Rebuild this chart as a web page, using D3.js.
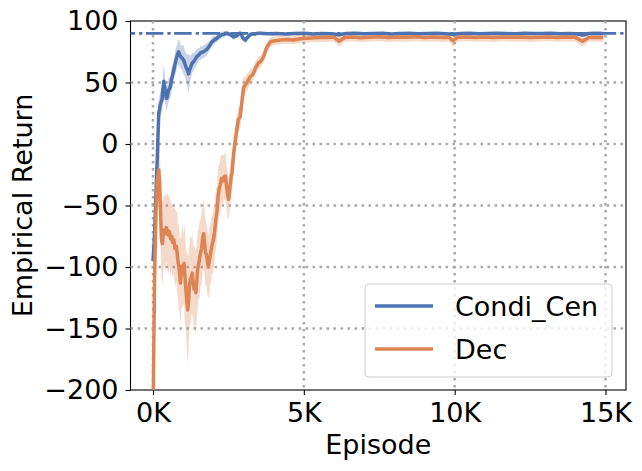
<!DOCTYPE html>
<html>
<head>
<meta charset="utf-8">
<script src="https://cdn.jsdelivr.net/npm/d3@7"></script>
<style>
  body { margin: 0; background: #fff; }
  svg text { font-family: "DejaVu Sans", sans-serif; fill: #000; }
</style>
</head>
<body>
<svg id="chart" width="642" height="471"></svg>
<script>
const width = 642, height = 471;
const margin = {left: 130.5, right: 16, top: 21, bottom: 81};

// Condi_Cen (blue): episode, mean return, std
const cenEpisodes = [
  0, 40, 80, 120, 140, 170, 190, 215, 240, 270,
  300, 330, 360, 390, 420, 445, 470, 500, 520, 550,
  580, 610, 640, 670, 690, 720, 760, 800, 850, 880,
  920, 960, 1020, 1060, 1100, 1140, 1180, 1210, 1240, 1270,
  1300, 1350, 1400, 1450, 1500, 1540, 1570, 1620, 1680, 1730,
  1790, 1850, 1900, 1950, 2010, 2060, 2120, 2180, 2230, 2290,
  2350, 2400, 2450, 2500, 2560, 2620, 2670, 2720, 2780, 2840,
  2890, 2930, 2960, 3010, 3060, 3110, 3150, 3190, 3230, 3300,
  3400, 3480, 3560,
  3800, 4100, 4400, 4700, 5000, 5300, 5600, 5900, 6170, 6400,
  6700, 7000, 7300, 7600, 7900, 8200, 8500, 8800, 9100, 9400,
  9700, 9940, 10200, 10500, 10800, 11100, 11400, 11700, 12000, 12300,
  12600, 12900, 13200, 13500, 13800, 14050, 14240, 14450, 14700, 14930];
const cenMean = [
  -95, -80, -55, -25, -13, 10, 25, 28, 32, 34,
  36, 45, 51, 46, 40, 37, 38, 42, 44, 45,
  47, 52, 55, 58, 60, 64, 68, 72, 75, 73,
  71, 70, 68, 65, 62, 60, 57, 60, 62, 64,
  66, 67, 69, 71, 72, 73, 74, 74.5, 75, 76,
  77, 79, 81, 83, 84, 85, 86, 87.5, 88, 89,
  89, 90, 90, 89.5, 89, 88, 87, 87.5, 88, 89.5,
  90, 89, 87, 85.5, 84.5, 86, 87, 88, 89, 89.5,
  89.5, 90, 90,
  89.6, 89.9, 89.4, 89.8, 90.0, 89.5, 89.9, 89.7, 88.8, 89.8,
  90.1, 89.6, 89.9, 90.0, 89.5, 89.8, 90.1, 89.7, 89.9, 90.0,
  89.6, 89.2, 89.9, 90.0, 89.7, 89.9, 90.1, 89.8, 89.6, 90.0,
  89.8, 89.9, 90.1, 89.7, 89.9, 89.6, 88.6, 89.8, 90.0, 89.9];
const cenStd = [
  3, 5, 8, 10, 10, 11, 12, 11, 10, 11,
  10, 12, 14, 11, 9, 10, 9, 9, 10, 9,
  9, 10, 9, 8, 8, 9, 10, 9, 10, 11,
  9, 10, 12, 10, 12, 13, 16, 12, 10, 9,
  8, 7, 7, 6, 6, 5, 6, 5, 5, 5,
  5, 4, 4, 4, 4, 3, 3, 3, 3, 2.5,
  2.5, 2, 2, 2, 2, 2, 2.5, 2, 2, 2,
  2, 2, 2.5, 2.5, 2.5, 2, 2, 2, 2, 1.5,
  1.5, 1, 1,
  1, 1, 1, 1, 1, 1, 1, 1, 1.5, 1,
  1, 1, 1, 1, 1, 1, 1, 1, 1, 1,
  1, 1.5, 1, 1, 1, 1, 1, 1, 1, 1,
  1, 1, 1, 1, 1, 1, 1.5, 1, 1, 1];

// Dec (orange): episode, mean return, std
const decEpisodes = [
  0, 50, 100, 140, 190, 220, 250, 280, 310, 340,
  370, 400, 440, 470, 500, 540, 580, 620, 650, 690,
  730, 770, 800, 830, 860, 890, 910, 940, 970, 1000,
  1030, 1060, 1090, 1120, 1150, 1180, 1210, 1240, 1270, 1300,
  1330, 1360, 1390, 1420, 1450, 1480, 1510, 1540, 1570, 1610,
  1650, 1680, 1710, 1740, 1770, 1800, 1830, 1860, 1900, 1930,
  1960, 2000, 2040, 2080, 2120, 2160, 2190, 2230, 2270, 2310,
  2350, 2400, 2440, 2480, 2510, 2550, 2590, 2620, 2670, 2730,
  2780, 2830, 2890, 2950, 3000, 3060, 3120, 3180, 3230, 3290,
  3340, 3400, 3450, 3500, 3560, 3620, 3670, 3730, 3780, 3840,
  3890, 3960, 4050, 4220, 4450, 4660, 4880, 5100, 5540,
  5800, 6000, 6170, 6350, 6600, 6900, 7200, 7500, 7800, 8100,
  8400, 8700, 9000, 9300, 9600, 9800, 9940, 10100, 10400, 10700,
  11000, 11300, 11600, 11900, 12200, 12500, 12800, 13100, 13400, 13700,
  14000, 14240, 14450, 14700, 14930];
const decMean = [
  -230, -110, -55, -30, -21, -30, -55, -78, -81, -74,
  -70, -73, -68, -70, -74, -71, -77, -75, -80, -78,
  -85, -83, -88, -96, -100, -108, -113, -104, -99, -102,
  -97, -108, -118, -128, -135, -128, -115, -110, -108, -105,
  -112, -118, -115, -121, -112, -102, -98, -94, -89, -85,
  -76, -73, -80, -88, -90, -95, -100, -96, -90, -86,
  -82, -78, -72, -62, -55, -42, -37, -33, -28, -30,
  -27, -26, -35, -42, -45, -35, -27, -24, -8, 3,
  12, 20, 22, 35, 46, 48, 50, 53, 55, 56,
  58, 62, 64, 66, 67, 69, 71, 76, 79, 81,
  83, 83.5, 84, 84.5, 85, 84.5, 85.5, 86, 86.5,
  86.5, 86.9, 83.5, 86.6, 87.0, 86.4, 86.8, 87.1, 86.5, 86.9,
  86.7, 87.1, 86.6, 86.9, 86.5, 86.8, 84, 86.7, 87.0, 86.6,
  86.9, 86.5, 87.0, 86.7, 86.9, 86.5, 86.8, 87.0, 86.6, 86.9,
  86.7, 83.5, 86.6, 86.8, 86.5];
const decStd = [
  5, 15, 20, 22, 24, 28, 30, 32, 34, 30,
  28, 32, 27, 30, 33, 28, 31, 26, 30, 27,
  32, 28, 33, 30, 35, 31, 36, 30, 34, 29,
  33, 38, 34, 40, 44, 38, 33, 36, 31, 34,
  30, 35, 31, 34, 30, 32, 28, 31, 27, 29,
  26, 30, 25, 28, 24, 27, 25, 28, 24, 26,
  23, 26, 22, 25, 21, 23, 20, 22, 19, 21,
  18, 20, 17, 19, 16, 17, 15, 14, 13, 12,
  11, 10, 10, 9, 8, 7, 7, 6, 6, 6,
  5, 5, 5, 5, 5, 4.5, 4.5, 4, 4, 4,
  4, 3.5, 3.5, 3.5, 3.5, 3.5, 3.5, 3.5, 3.5,
  3.5, 3.5, 4.5, 3.5, 3.5, 3.5, 3.5, 3.5, 3.5, 3.5,
  3.5, 3.5, 3.5, 3.5, 3.5, 3.5, 4.5, 3.5, 3.5, 3.5,
  3.5, 3.5, 3.5, 3.5, 3.5, 3.5, 3.5, 3.5, 3.5, 3.5,
  3.5, 4.5, 3.5, 3.5, 3.5];

const targetReturn = 90;
const xTicks = [0, 5000, 10000, 15000];
const yTicks = [-200, -150, -100, -50, 0, 50, 100];
const seriesNames = ["Condi_Cen", "Dec"];
const colors = ["#4c72b0", "#dd8452"];

const svg = d3.select("#chart");
const x = d3.scaleLinear().domain([-746, 15680]).range([margin.left, width - margin.right]);
const y = d3.scaleLinear().domain([-200, 100]).range([height - margin.bottom, margin.top]);

svg.append("defs").append("clipPath").attr("id", "clip")
  .append("rect")
  .attr("x", margin.left).attr("y", margin.top)
  .attr("width", width - margin.right - margin.left)
  .attr("height", height - margin.bottom - margin.top);

// spines (grid is drawn over them, like the reference)
svg.append("rect")
  .attr("x", margin.left).attr("y", margin.top)
  .attr("width", width - margin.right - margin.left)
  .attr("height", height - margin.bottom - margin.top)
  .attr("fill", "none").attr("stroke", "#000").attr("stroke-width", 1.1);

// grid
const grid = svg.append("g").attr("stroke", "#aaaaaa").attr("stroke-width", 2.5).attr("stroke-dasharray", "2.6,4.4");
grid.selectAll(".gx").data(xTicks).enter().append("line")
  .attr("x1", d => x(d)).attr("x2", d => x(d))
  .attr("y1", margin.top).attr("y2", height - margin.bottom);
grid.selectAll(".gy").data(yTicks.slice(1, -1)).enter().append("line")
  .attr("y1", d => y(d)).attr("y2", d => y(d))
  .attr("x1", margin.left).attr("x2", width - margin.right);

const series = [
  {eps: cenEpisodes, mean: cenMean, std: cenStd},
  {eps: decEpisodes, mean: decMean, std: decStd}
];

const plot = svg.append("g").attr("clip-path", "url(#clip)");

series.forEach((s, i) => {
  const pts = s.eps.map((e, j) => ({e: e, m: s.mean[j], sd: s.std[j]}));
  const area = d3.area()
    .x(d => x(d.e))
    .y0(d => y(d.m - d.sd))
    .y1(d => y(d.m + d.sd));
  plot.append("path")
    .datum(pts)
    .attr("d", area)
    .attr("fill", colors[i])
    .attr("opacity", 0.3);
});

series.forEach((s, i) => {
  const pts = s.eps.map((e, j) => ({e: e, m: s.mean[j]}));
  const line = d3.line().x(d => x(d.e)).y(d => y(d.m));
  plot.append("path")
    .datum(pts)
    .attr("d", line)
    .attr("fill", "none")
    .attr("stroke", colors[i])
    .attr("stroke-width", 3.5)
    .attr("stroke-linejoin", "round");
});

// target line
svg.append("line")
  .attr("x1", margin.left).attr("x2", width - margin.right)
  .attr("y1", y(targetReturn)).attr("y2", y(targetReturn))
  .attr("stroke", colors[0])
  .attr("stroke-width", 2.7)
  .attr("stroke-dasharray", "17.6,4,3.3,3.4")
  .attr("stroke-dashoffset", 13);

// axes
const xAxis = d3.axisBottom(x).tickValues(xTicks).tickFormat(d => (d / 1000) + "K").tickSize(5).tickPadding(8);
const yAxis = d3.axisLeft(y).tickValues(yTicks).tickFormat(d => d < 0 ? "\u2212" + Math.abs(d) : d).tickSize(5).tickPadding(7);

const gx = svg.append("g").attr("transform", `translate(0,${height - margin.bottom})`).call(xAxis);
const gy = svg.append("g").attr("transform", `translate(${margin.left},0)`).call(yAxis);
[gx, gy].forEach(g => {
  g.select(".domain").remove();
  g.selectAll("line").attr("stroke", "#000").attr("stroke-width", 1.1);
  g.selectAll("text").attr("font-size", 27).attr("font-family", "DejaVu Sans").attr("fill", "#000");
});

// axis labels
svg.append("text")
  .attr("x", (margin.left + width - margin.right) / 2).attr("y", 454)
  .attr("text-anchor", "middle").attr("font-size", 27)
  .text("Episode");
svg.append("text")
  .attr("transform", `translate(32,${(margin.top + height - margin.bottom) / 2}) rotate(-90)`)
  .attr("text-anchor", "middle").attr("font-size", 27)
  .text("Empirical Return");

// legend
const legend = svg.append("g");
legend.append("rect")
  .attr("x", 365).attr("y", 284).attr("width", 247).attr("height", 93)
  .attr("rx", 4)
  .attr("fill", "#fff").attr("fill-opacity", 0.8)
  .attr("stroke", "#cccccc").attr("stroke-width", 1);
seriesNames.forEach((name, i) => {
  const ly = 306 + i * 43;
  legend.append("line")
    .attr("x1", 375).attr("x2", 433).attr("y1", ly).attr("y2", ly)
    .attr("stroke", colors[i]).attr("stroke-width", 3.5);
  legend.append("text")
    .attr("x", 455).attr("y", ly + 10)
    .attr("font-size", 27)
    .text(name);
});
</script>
</body>
</html>
